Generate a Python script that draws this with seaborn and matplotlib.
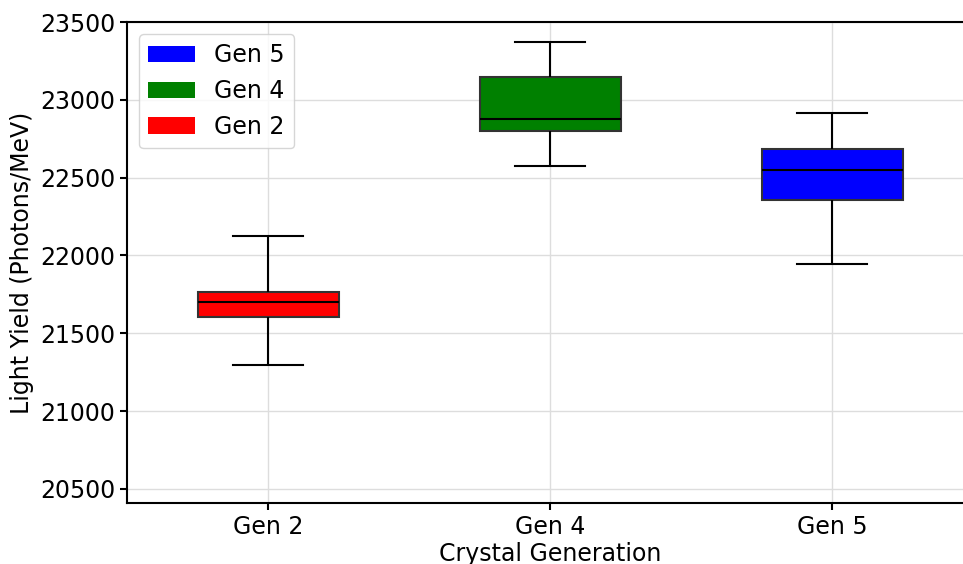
import matplotlib
matplotlib.use("Agg")
import matplotlib.pyplot as plt
from matplotlib.patches import Patch
import pandas as pd
import seaborn as sns

# Light yield per crystal generation: min, Q1, median, Q3, max (photons/MeV)
generations = ["Gen 2", "Gen 4", "Gen 5"]
gen2_yield = [21294, 21603, 21699, 21768, 22124]
gen4_yield = [22575, 22800, 22878, 23146, 23371]
gen5_yield = [21944, 22358, 22547, 22682, 22914]
colors = {"Gen 2": "red", "Gen 4": "green", "Gen 5": "blue"}
legend_order = ["Gen 5", "Gen 4", "Gen 2"]

df = pd.DataFrame({
    "Crystal Generation": ["Gen 2"] * len(gen2_yield)
    + ["Gen 4"] * len(gen4_yield)
    + ["Gen 5"] * len(gen5_yield),
    "Light Yield": gen2_yield + gen4_yield + gen5_yield,
})

plt.rcParams["font.family"] = ["DejaVu Sans"]
plt.rcParams["font.size"] = 17

fig = plt.figure(figsize=(9.63, 5.64), dpi=100)
ax = fig.add_axes([127 / 963, 1 - 503 / 564, 846 / 963, 481 / 564])

sns.boxplot(
    data=df,
    x="Crystal Generation",
    y="Light Yield",
    hue="Crystal Generation",
    order=generations,
    palette=colors,
    width=0.5,
    whis=(0, 100),
    saturation=1,
    linewidth=1.5,
    linecolor="black",
    boxprops=dict(edgecolor="#333333"),
    legend=False,
    ax=ax,
)

ax.set_ylim(20410, 23500)
ax.set_xlim(-0.5, 2.5)
ax.set_yticks([20500, 21000, 21500, 22000, 22500, 23000, 23500])
ax.set_axisbelow(True)
ax.grid(True, color="#dddddd", linewidth=1.0)
for side in ax.spines.values():
    side.set_linewidth(1.5)
    side.set_color("black")
ax.tick_params(width=1.5, length=5, labelsize=17)
ax.set_xlabel("Crystal Generation", fontsize=17, labelpad=2)
ax.set_ylabel("Light Yield (Photons/MeV)", fontsize=17)

handles = [Patch(facecolor=colors[g], label=g) for g in legend_order]
ax.legend(handles=handles, loc="upper left", fontsize=17)

fig.savefig("out.png", dpi=100)
